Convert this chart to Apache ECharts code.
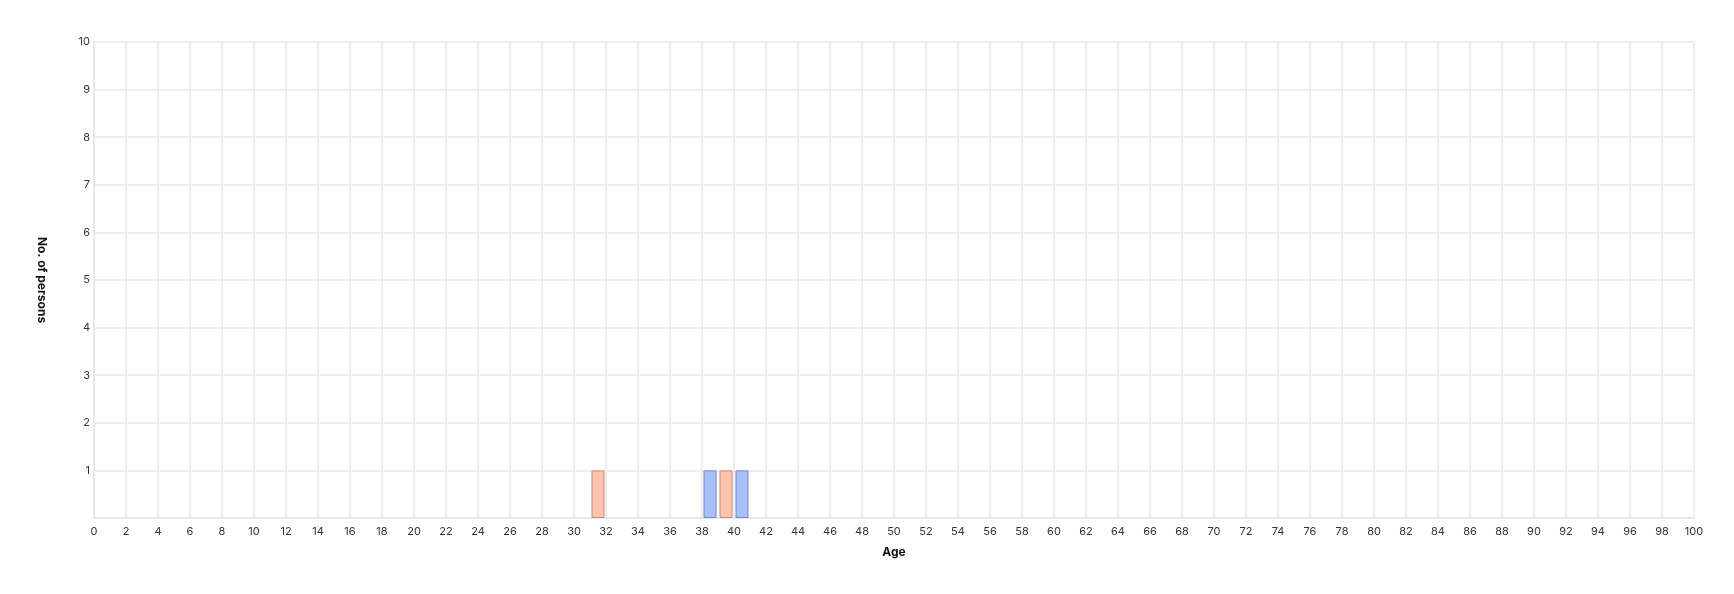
<!DOCTYPE html>
<html>
<head>
<meta charset="utf-8">
<script src="https://cdn.jsdelivr.net/npm/echarts@6/dist/echarts.min.js"></script>
<style>
html,body{margin:0;padding:0;background:#fff;}
#chart{width:1734px;height:594px;}
</style>
</head>
<body>
<div id="chart"></div>
<script>
// Data: age bin centers and person counts
const blueAges = [38.5, 40.5];
const blueCounts = [1, 1];
const orangeAges = [31.5, 39.5];
const orangeCounts = [1, 1];
const xTitle = 'Age';
const yTitle = 'No. of persons';

const chart = echarts.init(document.getElementById('chart'));
const gridColor = '#e8e8e8';
const labelStyle = {color: '#333', fontSize: 11, fontFamily: 'Inter, "Noto Sans", sans-serif'};
chart.setOption({
  animation: false,
  grid: {left: 94, right: 40, top: 42, bottom: 76},
  xAxis: {
    type: 'value', min: 0, max: 100, interval: 2,
    name: xTitle, nameLocation: 'middle', nameGap: 28,
    nameTextStyle: {color: '#111', fontSize: 12, fontWeight: 'bold', fontFamily: 'Inter, "Noto Sans", sans-serif'},
    axisLine: {show: true, lineStyle: {color: gridColor, width: 2}},
    axisTick: {show: false},
    axisLabel: Object.assign({margin: 8}, labelStyle),
    splitLine: {show: true, lineStyle: {color: gridColor, width: 1.5}}
  },
  yAxis: {
    type: 'value', min: 0, max: 10, interval: 1,
    name: yTitle, nameLocation: 'middle', nameGap: 46, nameRotate: -90,
    nameTextStyle: {color: '#111', fontSize: 12, fontWeight: 'bold', fontFamily: 'Inter, "Noto Sans", sans-serif'},
    axisLine: {show: true, lineStyle: {color: gridColor, width: 2}},
    axisTick: {show: false},
    axisLabel: Object.assign({margin: 4, formatter: v => v === 0 ? '' : String(v)}, labelStyle),
    splitLine: {show: true, lineStyle: {color: gridColor, width: 1.5}}
  },
  series: [
    {
      type: 'bar', name: 'A', barWidth: 13, barGap: '-100%',
      data: blueAges.map((a, i) => [a, blueCounts[i]]),
      itemStyle: {color: '#a9c0f8', borderColor: '#7088cc', borderWidth: 1}
    },
    {
      type: 'bar', name: 'B', barWidth: 13, barGap: '-100%',
      data: orangeAges.map((a, i) => [a, orangeCounts[i]]),
      itemStyle: {color: '#fdc3ab', borderColor: '#c88a78', borderWidth: 1}
    }
  ]
});
</script>
</body>
</html>
